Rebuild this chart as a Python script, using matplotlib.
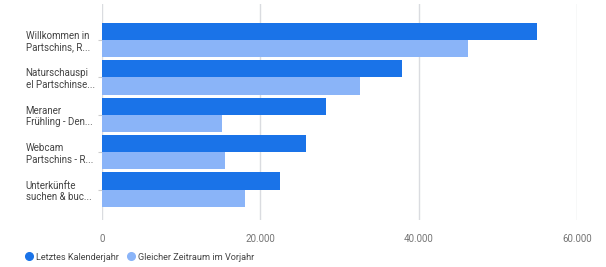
import matplotlib.pyplot as plt
from matplotlib.lines import Line2D
from matplotlib.ticker import FuncFormatter
import numpy as np

seiten = ['Willkommen in\nPartschins, R...', 'Naturschauspi\nel Partschinse...',
          'Meraner\nFrühling - Den...', 'Webcam\nPartschins - R...',
          'Unterkünfte\nsuchen & buc...']
letztes_jahr = [54900, 37900, 28300, 25800, 22500]
vorjahr = [46200, 32600, 15200, 15500, 18000]
serien = ['Letztes Kalenderjahr', 'Gleicher Zeitraum im Vorjahr']

dunkel = '#1a73e8'
hell = '#8ab4f8'

plt.rcParams['font.family'] = ['Roboto', 'DejaVu Sans']

fig = plt.figure(figsize=(6.06, 2.67), dpi=100)
ax = fig.add_axes([102 / 606, 1 - 220 / 267, 475 / 606, 216 / 267])

y = np.arange(len(seiten))
h = 0.46
ax.barh(y - h / 2, letztes_jahr, height=h, color=dunkel, zorder=3)
ax.barh(y + h / 2, vorjahr, height=h, color=hell, zorder=3)

ax.set_xlim(0, 60000)
ax.set_ylim(4.81, -0.96)
ax.set_xticks([0, 20000, 40000, 60000])
ax.xaxis.set_major_formatter(FuncFormatter(lambda v, p: f'{int(v):,}'.replace(',', '.')))
ax.grid(axis='x', color='#dadce0', linewidth=1, zorder=0)
for s in ax.spines.values():
    s.set_visible(False)

ax.set_yticks(y)
ax.set_yticklabels(seiten, fontsize=7, color='#444444', linespacing=1.2)
for lbl in ax.get_yticklabels():
    lbl.set_horizontalalignment('left')
ax.tick_params(axis='y', length=3, color='#cccccc', pad=52)
ax.tick_params(axis='x', length=0, pad=10, labelsize=7, labelcolor='#757575')

handles = [Line2D([], [], marker='o', linestyle='', color=dunkel, markersize=5.5),
           Line2D([], [], marker='o', linestyle='', color=hell, markersize=5.5)]
fig.legend(handles, serien, loc='center left', bbox_to_anchor=(19 / 606, 1 - 257 / 267),
           ncol=2, frameon=False, fontsize=6.6, labelcolor='#444444',
           handletextpad=0.1, columnspacing=0.8, handlelength=1.2, borderpad=0)

fig.savefig('out.png', dpi=100)
